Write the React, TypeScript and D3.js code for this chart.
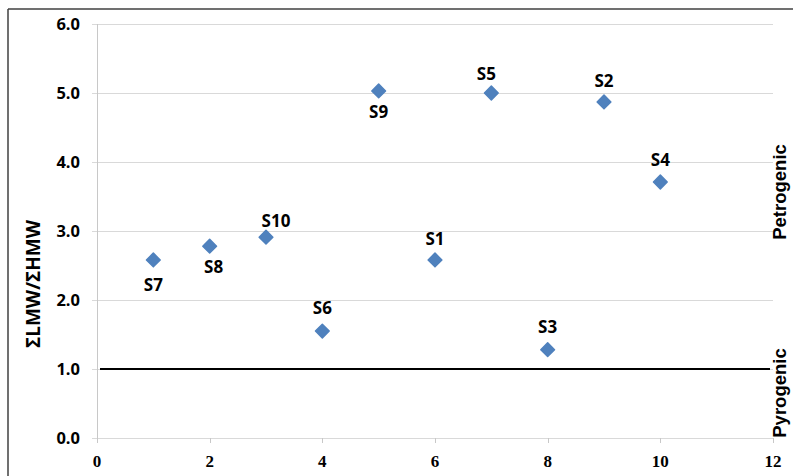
import React from "react";
import * as d3 from "d3";

const sampleNames = ["S7", "S8", "S10", "S6", "S9", "S1", "S5", "S3", "S2", "S4"];
const sampleX = [1, 2, 3, 4, 5, 6, 7, 8, 9, 10];
const ratioValues = [2.58, 2.78, 2.91, 1.55, 5.03, 2.58, 5.0, 1.28, 4.87, 3.71];
const labelPlacement = ["below", "below", "above", "above", "below", "above", "above", "above", "above", "above"];
const yTicks = [0, 1, 2, 3, 4, 5, 6];
const xTicks = [0, 2, 4, 6, 8, 10, 12];
const thresholdValue = 1.0;
const yTitle = "ΣLMW/ΣHMW";
const upperZoneLabel = "Petrogenic";
const lowerZoneLabel = "Pyrogenic";

// fine label nudges (layout, not data)
const labelDx: Record<string, number> = { S8: 4, S10: 10, S5: -5 };
const labelDy: Record<string, number> = { S7: 31, S8: 27, S9: 27, S10: -10, S5: -13, S2: -15, S4: -16, S6: -17, S3: -17, S1: -15 };

export default function App() {
  const W = 793, H = 476;
  const left = 97, right = 773, top = 24, bottom = 438;
  const x = d3.scaleLinear().domain([0, 12]).range([left, right]);
  const y = d3.scaleLinear().domain([0, 6]).range([bottom, top]);
  const sans = "'Open Sans', Lato, sans-serif";
  const diamond = d3.symbol().type(d3.symbolDiamond2 || d3.symbolDiamond).size(120)();

  return (
    <svg width={W} height={H} style={{ position: "absolute", left: 0, top: 0, background: "#fff" }}>
      {/* outer border */}
      <line x1={8} y1={9} x2={W} y2={9} stroke="#404040" strokeWidth={1.5} />
      <line x1={8} y1={9} x2={8} y2={H} stroke="#404040" strokeWidth={1.5} />
      {/* gridlines */}
      {yTicks.map((t) => (
        <g key={"gy" + t}>
          <line x1={left - 5} x2={right} y1={Math.round(y(t)) + 0.5} y2={Math.round(y(t)) + 0.5} stroke="#d9d9d9" strokeWidth={1} />
          <text x={80} y={y(t) + 6} textAnchor="end" fontFamily={sans} fontWeight={700} fontSize={16.5} fill="#000">
            {t.toFixed(1)}
          </text>
        </g>
      ))}
      {/* y axis line */}
      <line x1={left + 0.5} x2={left + 0.5} y1={top} y2={bottom + 5} stroke="#c8c8c8" strokeWidth={1} />
      {/* x ticks */}
      {xTicks.map((t) => (
        <g key={"gx" + t}>
          <line x1={Math.round(x(t)) + 0.5} x2={Math.round(x(t)) + 0.5} y1={bottom} y2={bottom + 5} stroke="#c8c8c8" strokeWidth={1} />
          <text x={x(t)} y={467} textAnchor="middle" fontFamily="'Liberation Serif', 'Times New Roman', serif" fontWeight={700} fontSize={17} fill="#000">
            {t}
          </text>
        </g>
      ))}
      {/* threshold line */}
      <line x1={x(0) + 3} x2={x(12) - 3} y1={y(thresholdValue)} y2={y(thresholdValue)} stroke="#000" strokeWidth={2} />
      {/* points */}
      {sampleNames.map((name, i) => (
        <path key={"p" + name} d={diamond!} transform={`translate(${x(sampleX[i])},${y(ratioValues[i])})`} fill="#4f81bd" stroke="#4f81bd" strokeWidth={1.5} strokeLinejoin="round" />
      ))}
      {/* labels */}
      {sampleNames.map((name, i) => (
        <text key={"l" + name} x={x(sampleX[i]) + (labelDx[name] || 0)} y={y(ratioValues[i]) + (labelDy[name] ?? (labelPlacement[i] === "above" ? -15 : 27))} textAnchor="middle" fontFamily={sans} fontWeight={700} fontSize={17} fill="#000">
          {name}
        </text>
      ))}
      {/* y title */}
      <text transform={`translate(40,284) rotate(-90)`} textAnchor="middle" fontFamily={sans} fontWeight={700} fontSize={19} fill="#000">
        {yTitle}
      </text>
      {/* zone labels */}
      <text transform={`translate(786,192) rotate(-90)`} textAnchor="middle" fontFamily="'Liberation Sans', Arial, sans-serif" fontWeight={700} fontSize={18.5} fill="#000">
        {upperZoneLabel}
      </text>
      <text transform={`translate(786,393) rotate(-90)`} textAnchor="middle" fontFamily="'Liberation Sans', Arial, sans-serif" fontWeight={700} fontSize={18.5} fill="#000">
        {lowerZoneLabel}
      </text>
    </svg>
  );
}
